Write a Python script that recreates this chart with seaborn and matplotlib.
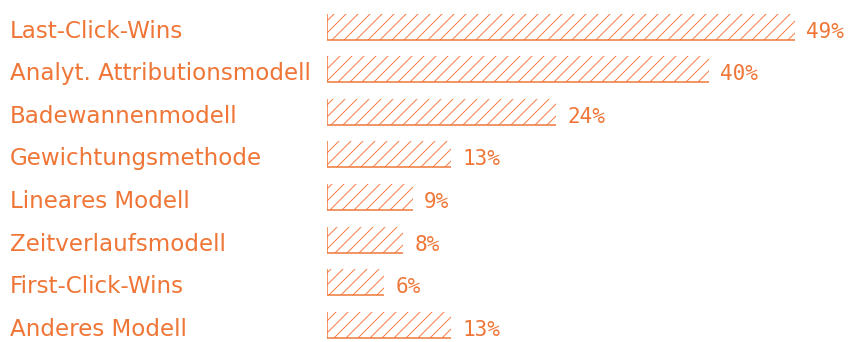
import matplotlib
matplotlib.use("Agg")
import matplotlib.pyplot as plt
import matplotlib.transforms as mtransforms
import seaborn as sns
import pandas as pd

categories = ["Last-Click-Wins", "Analyt. Attributionsmodell", "Badewannenmodell",
              "Gewichtungsmethode", "Lineares Modell", "Zeitverlaufsmodell",
              "First-Click-Wins", "Anderes Modell"]
values = [49, 40, 24, 13, 9, 8, 6, 13]
value_labels = ["49%", "40%", "24%", "13%", "9%", "8%", "6%", "13%"]

ORANGE = "#EF7637"
HATCH = "#F07F42"
DPI = 72
W, H = 853, 342
BAR_W = 0.61

def pt(px):
    return px * 72.0 / DPI

sns.set_theme(style="white")
plt.rcParams["hatch.linewidth"] = 1.0
plt.rcParams["font.family"] = ["DejaVu Sans"]

fig = plt.figure(figsize=(W / DPI, H / DPI), dpi=DPI)
ax = fig.add_axes([327 / W, -0.0126, 525.3 / W, 0.9974])

df = pd.DataFrame({"Modell": categories, "Anteil": values})
sns.barplot(data=df, x="Anteil", y="Modell", orient="h", ax=ax,
            width=BAR_W, color=ORANGE)

ax.set_xlim(0, 55)
ax.set_ylim(7.5, -0.5)

for p in ax.patches:
    p.set_facecolor("none")
    p.set_edgecolor(HATCH)
    p.set_linewidth(0)
    p.set_hatch("//")
    x0, y0 = p.get_x(), p.get_y()
    w, h = p.get_width(), p.get_height()
    ax.plot([x0, x0], [y0, y0 + h], color=ORANGE, lw=pt(1.5), solid_capstyle="butt")
    ax.plot([x0, x0 + w], [y0 + h, y0 + h], color=ORANGE, lw=pt(1.5), solid_capstyle="butt")

# value labels (baseline near bar bottom)
for i, (v, lab) in enumerate(zip(values, value_labels)):
    ax.annotate(lab, xy=(v, i + BAR_W / 2), xytext=(pt(11), pt(2)),
                textcoords="offset points",
                ha="left", va="baseline", color=ORANGE,
                fontsize=pt(21), family=["DejaVu Sans Mono"])

# category labels
for i, c in enumerate(categories):
    ax.annotate(c, xy=(10 / W, i + BAR_W / 2),
                xycoords=mtransforms.blended_transform_factory(fig.transFigure, ax.transData),
                xytext=(0, pt(2)), textcoords="offset points",
                ha="left", va="baseline", color=ORANGE,
                fontsize=pt(23), annotation_clip=False)

ax.set_xlabel("")
ax.set_ylabel("")
ax.set_xticks([])
ax.set_yticks([])
for s in ax.spines.values():
    s.set_visible(False)
ax.patch.set_alpha(0)

fig.savefig("out.png", dpi=DPI, facecolor="white")
